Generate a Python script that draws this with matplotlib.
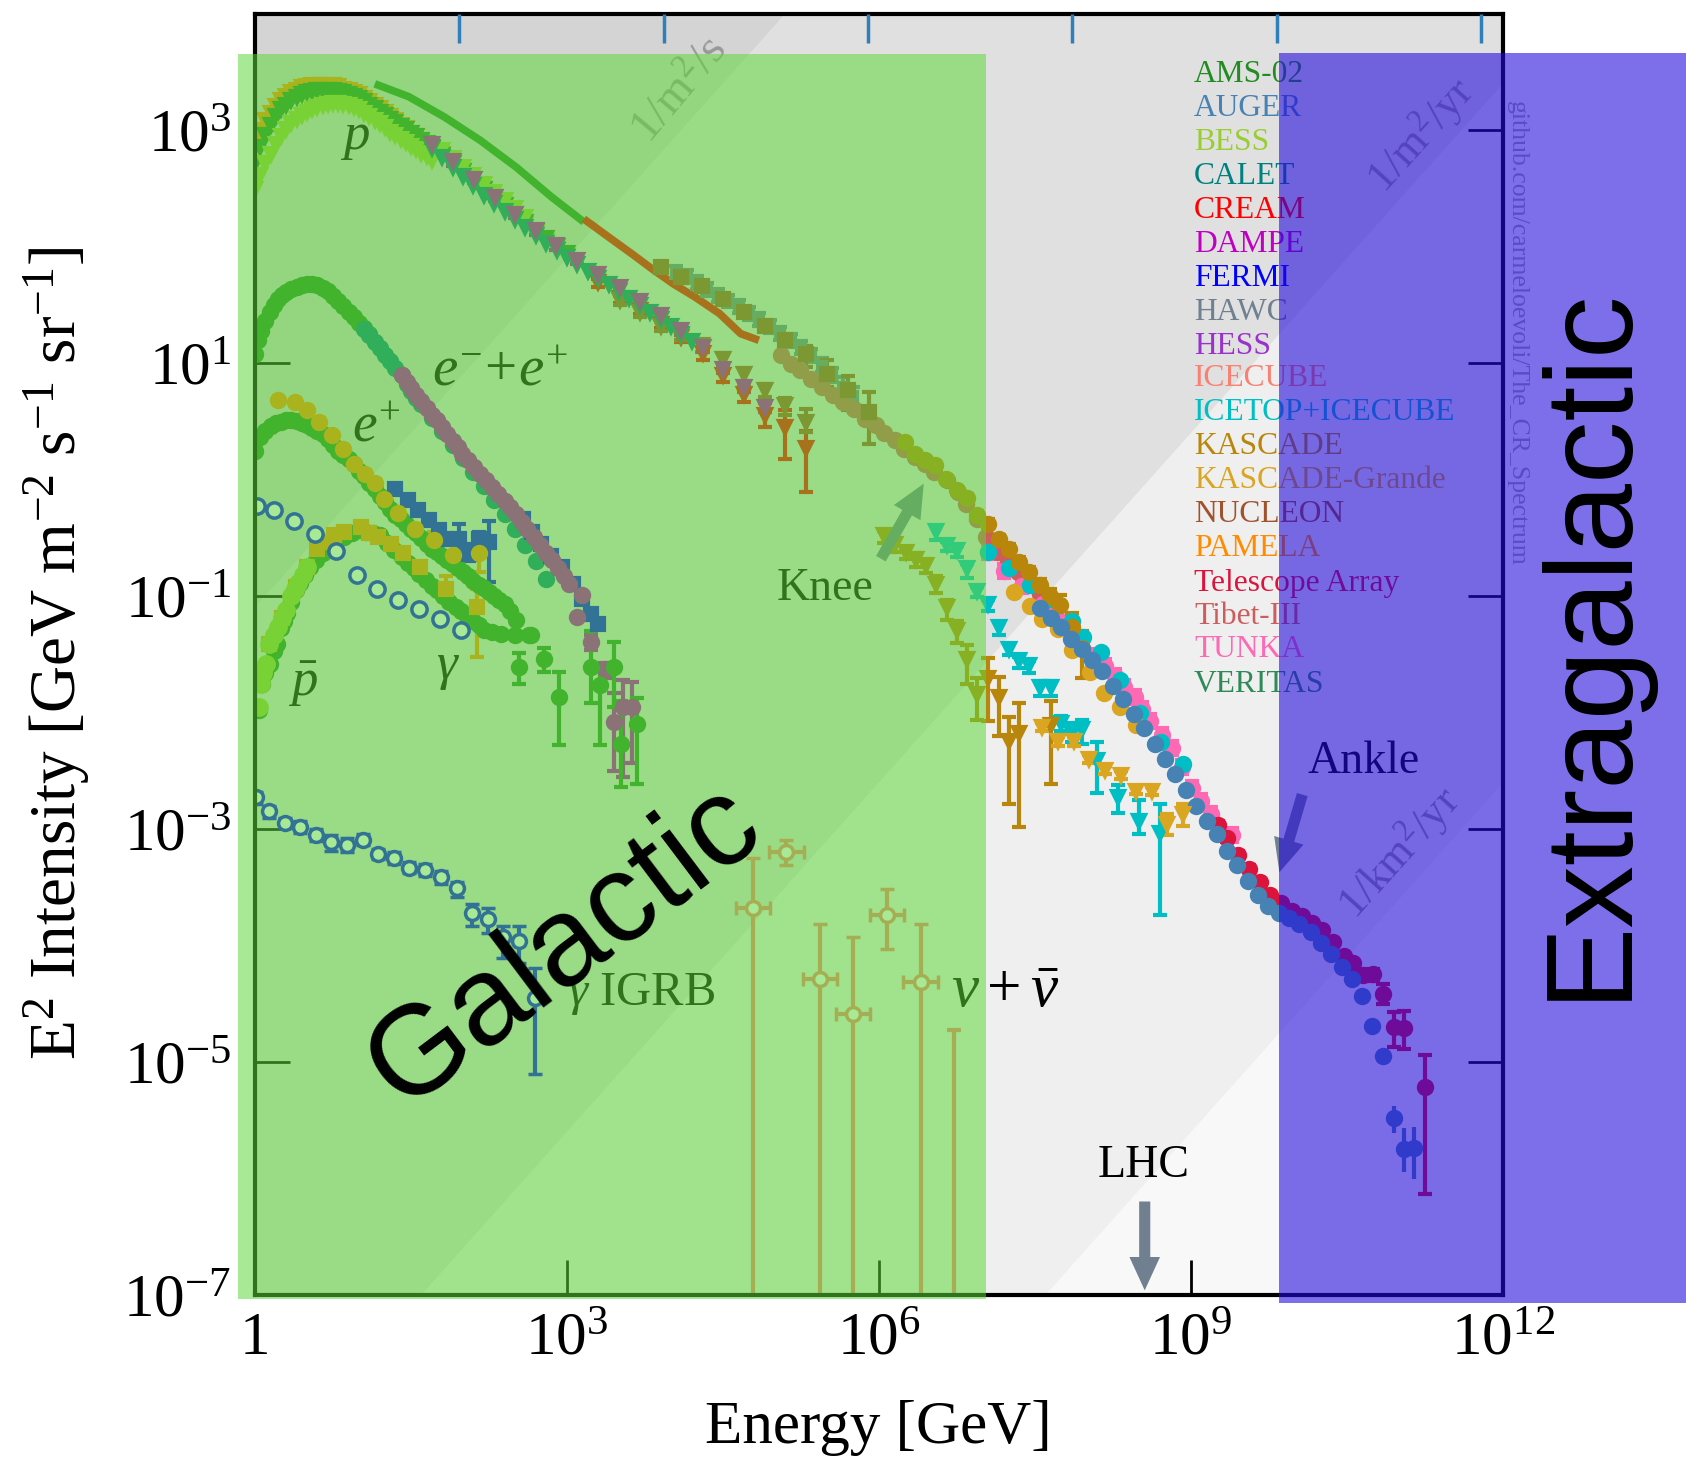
import matplotlib
matplotlib.use("Agg")
import numpy as np
import matplotlib.pyplot as plt
from matplotlib.patches import Rectangle
from matplotlib.ticker import NullLocator

W, H = 1686, 1459
plt.rcParams.update({
    "font.family": ["Liberation Serif", "DejaVu Serif"],
    "mathtext.fontset": "custom",
    "mathtext.rm": "Liberation Serif",
    "mathtext.it": "Liberation Serif:italic",
    "mathtext.bf": "Liberation Serif:bold",
})

# ---------- palette of experiments ----------
EXPERIMENTS = ["AMS-02", "AUGER", "BESS", "CALET", "CREAM", "DAMPE", "FERMI", "HAWC", "HESS", "ICECUBE",
               "ICETOP+ICECUBE", "KASCADE", "KASCADE-Grande", "NUCLEON", "PAMELA", "Telescope Array",
               "Tibet-III", "TUNKA", "VERITAS"]
COLORS = ["#228b22", "#4682b4", "#9acd32", "#008080", "#ff0000", "#c000c0", "#0000ff", "#708090", "#9932cc",
          "#fa8072", "#00bfc4", "#b8860b", "#daa520", "#a0522d", "#ff8c00", "#dc143c", "#cd5c5c", "#ff69b4",
          "#2e8b57"]
C = dict(zip(EXPERIMENTS, COLORS))

# ---------- data: log10(E/GeV), log10(E^2 I) ----------
p_low_E = [0, .05, .1, .15, .2, .25, .3, .35, .4, .45, .5, .55, .6, .65, .7, .75, .8, .85, .9, .95, 1.0, 1.05, 1.1,
           1.15, 1.2, 1.25, 1.3, 1.35, 1.4, 1.45, 1.5, 1.55, 1.6, 1.65, 1.7]
pamela_p_I = [2.90, 3.00, 3.09, 3.15, 3.21, 3.26, 3.30, 3.33, 3.35, 3.37, 3.38, 3.39, 3.39, 3.39, 3.39, 3.39, 3.38,
              3.36, 3.35, 3.33, 3.31, 3.28, 3.25, 3.22, 3.19, 3.16, 3.12, 3.09, 3.05, 3.02, 2.98, 2.95, 2.91, 2.87,
              2.84]
ams_p_I = [2.72, 2.86, 2.96, 3.05, 3.12, 3.18, 3.22, 3.26, 3.29, 3.31, 3.33, 3.34, 3.35, 3.35, 3.35, 3.35, 3.34,
           3.33, 3.31, 3.30, 3.28, 3.25, 3.22, 3.19, 3.16, 3.13, 3.10, 3.07, 3.04, 3.01, 2.98, 2.95, 2.92, 2.89,
           2.86]
bess_p_I = [2.50, 2.62, 2.72, 2.80, 2.88, 2.95, 3.01, 3.06, 3.10, 3.13, 3.16, 3.18, 3.20, 3.22, 3.23, 3.24, 3.24,
            3.23, 3.22, 3.20, 3.18, 3.15, 3.12, 3.09, 3.06, 3.03, 2.99, 2.96, 2.93, 2.90, 2.87, 2.84, 2.81, 2.78,
            2.75]
p_high_E = [1.8, 1.9, 2.0, 2.1, 2.2, 2.3, 2.4, 2.5, 2.6, 2.7, 2.8, 2.9, 3.0]
pamela_p_high_I = [2.80, 2.72, 2.65, 2.58, 2.50, 2.43, 2.36, 2.28, 2.20, 2.12, 2.05, 1.98, 1.92]
ams_p_high_I = [2.79, 2.72, 2.65, 2.58, 2.50, 2.43, 2.36, 2.28, 2.21, 2.14, 2.08, 2.01, 1.95]
bess_p_high_E = [1.8, 1.9, 2.0, 2.1, 2.2, 2.3, 2.4, 2.5, 2.6]
bess_p_high_I = [2.83, 2.76, 2.69, 2.62, 2.54, 2.47, 2.40, 2.33, 2.26]

ams_line_E = [1.152, 1.479, 1.822, 2.166, 2.51, 2.85, 3.162]
ams_line_I = [3.40, 3.29, 3.115, 2.915, 2.686, 2.43, 2.214]
cream_line_E = [3.162, 3.40, 3.64, 3.815, 4.02, 4.23, 4.467, 4.67, 4.845]
cream_line_I = [2.24, 2.085, 1.93, 1.813, 1.684, 1.57, 1.427, 1.255, 1.198]

calet_p_E = [1.7, 1.8, 1.9, 2.0, 2.1, 2.2, 2.3, 2.4, 2.5, 2.6, 2.7, 2.8, 2.9, 3.0, 3.1, 3.2, 3.3, 3.4, 3.5, 3.6, 3.7,
             3.8, 3.9, 4.0, 4.1, 4.2]
calet_p_I = [2.85, 2.77, 2.69, 2.61, 2.53, 2.45, 2.38, 2.31, 2.24, 2.17, 2.10, 2.03, 1.97, 1.91, 1.85, 1.79, 1.73,
             1.68, 1.62, 1.56, 1.50, 1.44, 1.38, 1.32, 1.25, 1.19]
cream_p_E = [3.30, 3.505, 3.70, 3.90, 4.10, 4.306, 4.50, 4.70, 4.90, 5.10, 5.30]
cream_p_I = [1.70, 1.56, 1.46, 1.34, 1.23, 1.09, .90, .74, .56, .45, .27]
cream_p_lo = [1.66, 1.52, 1.42, 1.30, 1.18, 1.03, .84, .67, .45, .18, -.105]
cream_p_hi = [1.74, 1.60, 1.50, 1.38, 1.28, 1.15, .96, .80, .66, .60, .42]
nucleon_p_E = [3.505, 3.70, 3.90, 4.10, 4.30, 4.50, 4.70, 4.90, 5.10, 5.30]
nucleon_p_I = [1.54, 1.44, 1.32, 1.24, 1.16, 1.04, .905, .768, .64, .50]
nucleon_p_lo = [1.50, 1.40, 1.28, 1.20, 1.10, .98, .85, .71, .56, .41]
nucleon_p_hi = [1.58, 1.48, 1.36, 1.28, 1.20, 1.09, .96, .82, .70, .61]
dampe_p_E = [1.702, 1.901, 2.104, 2.303, 2.502, 2.698, 2.897, 3.10, 3.30, 3.505, 3.70, 3.90, 4.10, 4.306, 4.50, 4.70,
             4.90]
dampe_p_I = [2.881, 2.735, 2.586, 2.431, 2.285, 2.142, 2.013, 1.890, 1.764, 1.656, 1.535, 1.412, 1.284, 1.14, .954,
             .797, .625]

hawc_E = [4.05, 4.15, 4.25, 4.35, 4.45, 4.55, 4.65, 4.75, 4.85, 4.95, 5.05, 5.15, 5.25, 5.35, 5.45, 5.55, 5.65, 5.75]
hawc_I = [1.78, 1.74, 1.69, 1.63, 1.58, 1.53, 1.48, 1.42, 1.37, 1.31, 1.25, 1.19, 1.13, 1.06, .98, .89, .80, .72]
hawc_lo = [1.73, 1.69, 1.64, 1.58, 1.53, 1.48, 1.43, 1.37, 1.32, 1.26, 1.20, 1.14, 1.08, 1.01, .93, .84, .74, .64]
hawc_hi = [1.84, 1.80, 1.75, 1.69, 1.64, 1.59, 1.54, 1.48, 1.43, 1.37, 1.31, 1.25, 1.19, 1.12, 1.05, .96, .88, .80]
nucleon_all_E = [3.90, 4.096, 4.30, 4.50, 4.70, 4.90, 5.10, 5.30, 5.5, 5.70, 5.90]
nucleon_all_I = [1.827, 1.742, 1.664, 1.55, 1.441, 1.318, 1.198, 1.077, .911, .768, .582]
nucleon_all_lo = [1.80, 1.71, 1.63, 1.52, 1.41, 1.29, 1.16, .97, .80, .60, .31]
nucleon_all_hi = [1.85, 1.77, 1.69, 1.58, 1.47, 1.35, 1.23, 1.15, 1.03, .89, .75]
tibet_E = [5.056, 5.15, 5.245, 5.35, 5.45, 5.554, 5.657, 5.76, 5.863, 5.97, 6.05, 6.155, 6.24, 6.344, 6.447, 6.53,
           6.65, 6.756, 6.84, 6.945, 7.03, 7.134, 7.237, 7.34, 7.443, 7.546]
tibet_I = [1.07, .997, .94, .868, .796, .725, .668, .61, .525, .467, .40, .339, .267, .196, .138, .067, -.005, -.105,
           -.205, -.334, -.49, -.62, -.69, -.79, -.892, -.98]
kascade_all_E = [6.248, 6.35, 6.447, 6.543, 6.647, 6.746, 6.842, 6.945, 7.05, 7.15, 7.25, 7.347, 7.443, 7.546, 7.645,
                 7.745, 7.856, 7.95]
kascade_all_I = [.324, .218, .167, .124, .01, -.09, -.154, -.305, -.377, -.506, -.59, -.706, -.792, -.906, -1.0,
                 -1.078, -1.26, -1.44]
kascade_all_lo = [.29, .18, .13, .09, -.02, -.12, -.19, -.34, -.41, -.54, -.63, -.75, -.84, -.96, -1.06, -1.18,
                  -1.40, -1.70]
kascade_all_hi = [.35, .25, .20, .16, .04, -.06, -.12, -.27, -.34, -.47, -.55, -.66, -.75, -.85, -.94, -.99, -1.14,
                  -1.30]
icetop_all_E = [7.05, 7.25, 7.45, 7.65, 7.856, 7.96, 8.13, 8.32, 8.51, 8.715, 8.92]
icetop_all_I = [-.62, -.76, -.90, -1.02, -1.21, -1.354, -1.476, -1.72, -2.0, -2.248, -2.44]
grande_all_E = [7.3, 7.45, 7.564, 7.72, 7.856, 8.03, 8.165, 8.32, 8.475]
grande_all_I = [-.96, -1.08, -1.196, -1.284, -1.459, -1.652, -1.827, -1.95, -2.107]
tunka_E = [7.05, 7.2, 7.375, 7.58, 7.7, 7.82, 7.94, 8.06, 8.17, 8.27, 8.36, 8.457, 8.53, 8.61, 8.72, 8.82, 8.91, 9.007,
           9.1, 9.196, 9.395]
tunka_I = [-.62, -.78, -.916, -1.07, -1.17, -1.266, -1.39, -1.51, -1.60, -1.687, -1.78, -1.862, -1.97, -2.07, -2.19,
           -2.307, -2.47, -2.65, -2.76, -2.868, -3.054]
ta_E = [9.264, 9.35, 9.453, 9.556, 9.66, 9.763, 9.866, 9.97, 10.07, 10.165, 10.26, 10.364, 10.467, 10.56, 10.656,
        10.75, 10.845, 10.95, 11.044, 11.25]
ta_I = [-2.966, -3.078, -3.218, -3.341, -3.457, -3.562, -3.632, -3.702, -3.748, -3.807, -3.87, -3.965, -4.087, -4.15,
        -4.256, -4.245, -4.414, -4.70, -4.708, -5.216]
ta_lo = [-3.0, -3.11, -3.25, -3.37, -3.49, -3.59, -3.66, -3.73, -3.77, -3.83, -3.89, -3.99, -4.11, -4.18, -4.29, -4.30,
         -4.50, -4.87, -4.89, -6.13]
ta_hi = [-2.93, -3.05, -3.19, -3.31, -3.43, -3.54, -3.61, -3.68, -3.73, -3.79, -3.85, -3.94, -4.06, -4.12, -4.22, -4.20,
         -4.33, -4.57, -4.56, -4.94]
auger_E = [7.547, 7.65, 7.746, 7.85, 7.95, 8.05, 8.148, 8.25, 8.35, 8.45, 8.55, 8.65, 8.75, 8.85, 8.95, 9.05, 9.15,
           9.25, 9.347, 9.446, 9.546, 9.646, 9.745, 9.85, 9.945, 10.04, 10.15, 10.25, 10.346, 10.45, 10.546, 10.645,
           10.745, 10.845, 10.95, 11.044, 11.144]
auger_I = [-1.10, -1.185, -1.266, -1.364, -1.452, -1.546, -1.645, -1.767, -1.886, -2.009, -2.132, -2.265, -2.395,
           -2.528, -2.661, -2.80, -2.93, -3.043, -3.187, -3.31, -3.446, -3.562, -3.656, -3.72, -3.76, -3.81, -3.884,
           -3.98, -4.07, -4.186, -4.284, -4.435, -4.694, -4.946, -5.483, -5.742, -5.735]
auger_lo = [v - .01 for v in auger_I[:34]] + [-5.61, -5.94, -6.0]
auger_hi = [v + .01 for v in auger_I[:34]] + [-5.38, -5.57, -5.56]

icetop_p_E = [6.55, 6.653, 6.75, 6.846, 6.945, 7.05, 7.15, 7.25, 7.347, 7.443, 7.546, 7.65, 7.753, 7.856, 7.95, 8.10,
              8.296, 8.50, 8.70]
icetop_p_I = [-.44, -.563, -.606, -.755, -.955, -1.064, -1.264, -1.45, -1.55, -1.593, -1.78, -1.78, -2.09, -2.177,
              -2.142, -2.405, -2.72, -2.93, -3.036]
icetop_p_lo = [-.52, -.61, -.66, -.84, -1.01, -1.13, -1.33, -1.50, -1.62, -1.66, -1.86, -1.86, -2.16, -2.25, -2.27,
               -2.69, -2.86, -3.04, -3.737]
icetop_p_hi = [-.40, -.53, -.57, -.72, -.92, -1.03, -1.22, -1.41, -1.52, -1.56, -1.73, -1.73, -2.03, -2.09, -2.06,
               -2.25, -2.62, -2.75, -2.78]
kascade_p_E = [6.05, 6.155, 6.26, 6.354, 6.454, 6.55, 6.653, 6.75, 6.846, 6.945, 7.05, 7.15, 7.248, 7.348, 7.65]
kascade_p_I = [-.477, -.549, -.62, -.677, -.735, -.892, -1.092, -1.293, -1.536, -1.836, -1.70, -1.862, -2.247, -2.177,
               -2.107]
kascade_p_lo = [-.54, -.62, -.68, -.75, -.80, -.97, -1.20, -1.40, -1.75, -2.06, -2.07, -2.20, -2.78, -2.98, -2.61]
kascade_p_hi = [-.44, -.50, -.58, -.63, -.69, -.83, -1.03, -1.21, -1.42, -1.70, -1.53, -1.69, -2.04, -1.92, -1.90]
grande_p_E = [7.564, 7.725, 7.873, 8.02, 8.175, 8.326, 8.475, 8.622, 8.773, 8.92]
grande_p_I = [-2.125, -2.247, -2.247, -2.395, -2.493, -2.538, -2.668, -2.675, -2.955, -2.868]
grande_p_lo = [-2.16, -2.29, -2.29, -2.43, -2.53, -2.57, -2.70, -2.71, -3.05, -2.97]
grande_p_hi = [-2.09, -2.21, -2.21, -2.36, -2.46, -2.50, -2.63, -2.64, -2.87, -2.78]

ams_ee_E = [0, .03, .06, .1, .14, .18, .22, .26, .3, .35, .4, .45, .5, .55, .6, .65, .7, .75, .8, .85, .9, .95, 1.0,
            1.05, 1.1]
ams_ee_I = [1.08, 1.2, 1.28, 1.36, 1.44, 1.5, 1.55, 1.59, 1.615, 1.64, 1.66, 1.675, 1.685, 1.685, 1.67, 1.65, 1.62,
            1.58, 1.535, 1.49, 1.44, 1.395, 1.35, 1.305, 1.25]
calet_ee_E = [1.05, 1.10, 1.15, 1.20, 1.25, 1.30, 1.35, 1.41, 1.46, 1.5, 1.55, 1.6, 1.7, 1.8, 1.9, 2.0, 2.1, 2.2, 2.3,
              2.4, 2.5, 2.6, 2.7, 2.8]
calet_ee_I = [1.298, 1.24, 1.18, 1.13, 1.07, 1.02, .96, .90, .82, .76, .70, .65, .53, .42, .30, .19, .07, -.05, -.17,
              -.29, -.42, -.56, -.70, -.85]
fermi_ee_E = [2.58, 2.66, 2.75, 2.85, 2.956, 3.06, 3.14, 3.23, 3.3]
fermi_ee_I = [-.34, -.45, -.548, -.65, -.749, -.892, -1.02, -1.15, -1.235]
dampe_ee_E = [1.41, 1.46, 1.5, 1.55, 1.6, 1.65, 1.7, 1.75, 1.8, 1.85, 1.9, 1.95, 1.994, 2.05, 2.11, 2.166, 2.22, 2.28,
              2.337, 2.4, 2.45, 2.51, 2.57, 2.62, 2.68, 2.74, 2.8, 2.853, 2.91, 2.97, 3.024, 3.145, 3.093, 3.23, 3.37,
              3.454, 3.54, 3.626]
dampe_ee_I = [.897, .84, .79, .73, .68, .62, .56, .51, .45, .39, .33, .28, .224, .17, .11, .053, -.005, -.06, -.119,
              -.18, -.23, -.29, -.36, -.42, -.491, -.56, -.63, -.691, -.76, -.83, -.892, -.992, -1.178, -1.393, -1.622,
              -2.08, -1.95, -1.95]
dampe_ee_lo = [v - .01 for v in dampe_ee_I[:33]] + [-1.46, -1.70, -2.50, -2.55, -2.43]
dampe_ee_hi = [v + .01 for v in dampe_ee_I[:33]] + [-1.33, -1.57, -1.83, -1.72, -1.74]
ams_ep_band_E = [0, .05, .1, .15, .2, .25, .3, .35, .4, .45, .5, .55, .6, .65, .7, .75, .8, .85, .9, .95, 1.0, 1.05,
                 1.1, 1.15, 1.2, 1.25, 1.3, 1.35, 1.4, 1.45, 1.5, 1.55, 1.6, 1.65, 1.7, 1.75, 1.8, 1.85, 1.9, 1.95,
                 2.0, 2.05, 2.1, 2.15, 2.2, 2.25, 2.3, 2.35, 2.4, 2.45, 2.51]
ams_ep_band_I = [.25, .37, .42, .46, .485, .50, .51, .514, .505, .49, .47, .445, .42, .39, .35, .30, .25, .21, .18,
                 .14, .08, .03, -.03, -.08, -.14, -.19, -.25, -.30, -.34, -.38, -.42, -.46, -.50, -.55, -.59, -.62,
                 -.655, -.69, -.72, -.755, -.79, -.83, -.865, -.90, -.93, -.965, -1.0, -1.03, -1.07, -1.13, -1.207]
ams_ep_tail_E = [2.63, 2.777, 2.92, 3.23, 3.317, 3.454, 3.52, 3.677]
ams_ep_tail_I = [-1.335, -1.536, -1.865, -1.607, -1.765, -1.607, -2.265, -2.094]
ams_ep_tail_lo = [-1.36, -1.65, -2.28, -1.92, -2.28, -1.95, -2.64, -2.61]
ams_ep_tail_hi = [-1.31, -1.44, -1.65, -1.30, -1.60, -1.39, -1.90, -1.87]
ams_pb_E = [.04, .07, .1, .14, .18, .21, .25, .28, .31, .35, .39, .43, .48, .53, .59, .65, .72, .79, .86, .93, 1.0,
            1.07, 1.13, 1.2, 1.27, 1.34, 1.41, 1.47, 1.53, 1.58, 1.64, 1.7, 1.75, 1.81, 1.87, 1.93, 1.98, 2.04, 2.1,
            2.15, 2.2, 2.28, 2.37, 2.5, 2.65]
ams_pb_I = [-1.98, -1.75, -1.66, -1.58, -1.47, -1.41, -1.27, -1.21, -1.14, -1.05, -.95, -.89, -.82, -.75, -.69, -.63,
            -.57, -.52, -.49, -.455, -.434, -.445, -.46, -.477, -.54, -.60, -.663, -.71, -.76, -.806, -.86, -.91, -.95,
            -1.0, -1.05, -1.09, -1.13, -1.17, -1.21, -1.25, -1.29, -1.31, -1.32, -1.33, -1.335]
ams_pb_tail_E = [2.537]
ams_pb_tail_I = [-1.607]
ams_pb_tail_lo = [-1.75]
ams_pb_tail_hi = [-1.49]
pamela_pb_E = [.139, .259, .397, .5, .6, .67, .757, .86, 1.015, 1.1, 1.187, 1.307, 1.427, 1.582, 1.84, 2.13]
pamela_pb_I = [-1.41, -1.19, -.92, -.75, -.59, -.534, -.477, -.448, -.405, -.457, -.491, -.548, -.628, -.749, -.935,
               -1.092]
pamela_pb_lo = [-1.43, -1.21, -.94, -.77, -.61, -.55, -.50, -.47, -.43, -.48, -.51, -.57, -.65, -.79, -1.03, -1.52]
pamela_pb_hi = [-1.39, -1.17, -.90, -.73, -.57, -.51, -.46, -.43, -.38, -.44, -.47, -.53, -.61, -.72, -.83, -.94]
bess_pb_E = [.036, .053, .08, .105, .139, .18, .225, .26, .294, .345, .38, .414, .46, .5]
bess_pb_I = [-1.95, -1.75, -1.66, -1.58, -1.41, -1.33, -1.26, -1.19, -1.12, -1.0, -.94, -.89, -.82, -.75]
pamela_ep_E = [.225, .38, .5, .62, .74, .843, .956, 1.06, 1.15, 1.245, 1.375, 1.54, 1.72, 1.908, 2.155]
pamela_ep_I = [.682, .668, .597, .496, .382, .267, .139, .047, -.025, -.162, -.282, -.42, -.52, -.649, -.628]
pamela_ep_lo = [v - .01 for v in pamela_ep_I[:12]] + [-.62, -.76, -.79]
pamela_ep_hi = [v + .01 for v in pamela_ep_I[:12]] + [-.45, -.55, -.51]
fermi_ep_E = [1.348, 1.468, 1.564, 1.67, 1.77, 1.84, 1.96, 2.06, 2.155, 2.25]
fermi_ep_I = [-.076, -.176, -.262, -.348, -.434, -.505, -.505, -.634, -.505, -.534]
fermi_ep_lo = [-.10, -.20, -.29, -.38, -.46, -.53, -.60, -.70, -.62, -.88]
fermi_ep_hi = [-.05, -.15, -.24, -.32, -.40, -.47, -.38, -.55, -.45, -.35]
fermi_gamma_E = [.019, .184, .379, .579, .781, .977, 1.176, 1.376, 1.575, 1.778, 1.977]
fermi_gamma_I = [-.228, -.262, -.356, -.468, -.611, -.82, -.94, -1.035, -1.109, -1.198, -1.292]
fermi_igrb_E = [.006, .134, .286, .433, .585, .733, .885, 1.037, 1.184, 1.336, 1.483, 1.635, 1.787, 1.94, 2.087, 2.239,
                2.386, 2.538, 2.69]
fermi_igrb_I = [-2.726, -2.848, -2.944, -2.978, -3.054, -3.109, -3.138, -3.089, -3.213, -3.248, -3.33, -3.35, -3.414,
                -3.509, -3.721, -3.77, -3.93, -3.959, -4.452]
fermi_igrb_lo = [-2.78, -2.90, -2.99, -3.03, -3.10, -3.19, -3.20, -3.14, -3.26, -3.30, -3.38, -3.40, -3.47, -3.58,
                 -3.83, -3.89, -4.11, -4.15, -5.10]
fermi_igrb_hi = [-2.68, -2.80, -2.90, -2.93, -3.00, -3.05, -3.08, -3.04, -3.17, -3.20, -3.28, -3.30, -3.36, -3.45,
                 -3.64, -3.68, -3.83, -3.83, -4.19]
nu_E = [4.786, 5.11, 5.433, 5.752, 6.076, 6.40]
nu_I = [-3.678, -3.196, -4.284, -4.585, -3.733, -4.313]
nu_lo = [-7.5, -3.306, -7.5, -7.5, -4.026, -7.5]
nu_hi = [-3.248, -3.089, -3.814, -3.93, -3.51, -3.814]
nu_limit_E = 6.72
nu_limit_hi = -4.728
nu_xerr = 0.165

x_ticks = [0, 3, 6, 9, 12]
x_ticklabels = ["1", r"$10^{3}$", r"$10^{6}$", r"$10^{9}$", r"$10^{12}$"]
y_ticks = [3, 1, -1, -3, -5, -7]
y_ticklabels = [r"$10^{3}$", r"$10^{1}$", r"$10^{-1}$", r"$10^{-3}$", r"$10^{-5}$", r"$10^{-7}$"]
top_ticks = [1.965, 3.93, 5.895, 7.86, 9.825, 11.79]
band_offsets = [-1.1, -8.6, -14.6]
band_colors = ["#d4d4d4", "#e0e0e0", "#efefef", "#f8f8f8"]
legend_y = [75, 109, 143, 176, 210, 244, 278, 312, 346, 379, 413, 447, 481, 515, 548, 583, 616, 650, 684]

# ---------- figure ----------
fig = plt.figure(figsize=(W / 100, H / 100), dpi=100, facecolor="white")
ax = fig.add_axes([255 / W, 1 - 1295 / H, (1503 - 255) / W, (1295 - 14) / H])
ax.set_xscale("log")
ax.set_yscale("log")
ax.set_xlim(1, 1e12)
ax.set_ylim(1e-7, 1e4)


def pw(a):
    return 10.0 ** np.asarray(a, dtype=float)


# background bands
bx = np.array([-1.0, 13.0])
ax.set_facecolor(band_colors[3])
ax.fill_between(pw(bx), pw(bx + band_offsets[0]), pw(bx + 30), color=band_colors[0], lw=0, zorder=.10)
ax.fill_between(pw(bx), pw(bx + band_offsets[1]), pw(bx + band_offsets[0]), color=band_colors[1], lw=0, zorder=.11)
ax.fill_between(pw(bx), pw(bx + band_offsets[2]), pw(bx + band_offsets[1]), color=band_colors[2], lw=0, zorder=.12)

zcount = [2.0]
MS = {"o": 9.5, "s": 8.5, "v": 9.0}


def series(E, I, color, marker="o", lo=None, hi=None, ms=None, mfc=None, mew=3.0, capsize=5):
    zcount[0] += 0.01
    E, I = np.asarray(E, float), np.asarray(I, float)
    yerr = None
    if lo is not None:
        yerr = [np.maximum(pw(I) - pw(lo), 0), np.maximum(pw(hi) - pw(I), 0)]
    ax.errorbar(pw(E), pw(I), yerr=yerr, fmt=marker, color=color, ms=ms if ms else MS.get(marker, 8.5),
                mfc=mfc if mfc else color, mec=color, mew=mew, elinewidth=3, capsize=capsize, capthick=3,
                zorder=zcount[0], ls="none")


# protons
ax.plot(pw(ams_line_E), pw(ams_line_I), color=C["AMS-02"], lw=5.5, zorder=2.0, solid_capstyle="butt")
ax.plot(pw(cream_line_E), pw(cream_line_I), color=C["CREAM"], lw=5.5, zorder=2.005, solid_capstyle="butt")
series(p_low_E + p_high_E, pamela_p_I + pamela_p_high_I, C["PAMELA"], "v")
series(p_low_E + p_high_E, ams_p_I + ams_p_high_I, C["AMS-02"], "v")
series(p_low_E + bess_p_high_E, bess_p_I + bess_p_high_I, C["BESS"], "v")
series(cream_p_E, cream_p_I, C["CREAM"], "v", lo=cream_p_lo, hi=cream_p_hi)
series(nucleon_p_E, nucleon_p_I, C["NUCLEON"], "v", lo=nucleon_p_lo, hi=nucleon_p_hi)
series(calet_p_E, calet_p_I, C["CALET"], "v")
series(dampe_p_E, dampe_p_I, C["DAMPE"], "v", lo=[v - .04 for v in dampe_p_I], hi=[v + .04 for v in dampe_p_I])
# all particle
series(hawc_E, hawc_I, C["HAWC"], "s", ms=6, lo=hawc_lo, hi=hawc_hi)
series(tibet_E, tibet_I, C["Tibet-III"], "o")
series(tunka_E, tunka_I, C["TUNKA"], "o", lo=[v - .06 for v in tunka_I], hi=[v + .06 for v in tunka_I])
series(icetop_all_E, icetop_all_I, C["ICETOP+ICECUBE"], "o")
series(nucleon_all_E, nucleon_all_I, C["NUCLEON"], "s", lo=nucleon_all_lo, hi=nucleon_all_hi)
series(kascade_all_E, kascade_all_I, C["KASCADE"], "o", lo=kascade_all_lo, hi=kascade_all_hi)
series(grande_all_E, grande_all_I, C["KASCADE-Grande"], "o")
series(ta_E, ta_I, C["Telescope Array"], "o", lo=ta_lo, hi=ta_hi)
series(auger_E, auger_I, C["AUGER"], "o", lo=auger_lo, hi=auger_hi, capsize=0)
# light component
series(icetop_p_E, icetop_p_I, C["ICETOP+ICECUBE"], "v", lo=icetop_p_lo, hi=icetop_p_hi)
series(kascade_p_E, kascade_p_I, C["KASCADE"], "v", lo=kascade_p_lo, hi=kascade_p_hi)
series(grande_p_E, grande_p_I, C["KASCADE-Grande"], "v", lo=grande_p_lo, hi=grande_p_hi)
# leptons and antiprotons
series(ams_ee_E, ams_ee_I, C["AMS-02"], "o")
series(calet_ee_E, calet_ee_I, C["CALET"], "o")
series(fermi_ee_E, fermi_ee_I, C["FERMI"], "s")
series(dampe_ee_E, dampe_ee_I, C["DAMPE"], "o", lo=dampe_ee_lo, hi=dampe_ee_hi)
series(ams_ep_band_E, ams_ep_band_I, C["AMS-02"], "o")
series(ams_ep_tail_E, ams_ep_tail_I, C["AMS-02"], "o", lo=ams_ep_tail_lo, hi=ams_ep_tail_hi)
series(fermi_ep_E, fermi_ep_I, C["FERMI"], "s", lo=fermi_ep_lo, hi=fermi_ep_hi)
series(pamela_ep_E, pamela_ep_I, C["PAMELA"], "o", lo=pamela_ep_lo, hi=pamela_ep_hi)
series(ams_pb_E, ams_pb_I, C["AMS-02"], "o")
series(ams_pb_tail_E, ams_pb_tail_I, C["AMS-02"], "o", lo=ams_pb_tail_lo, hi=ams_pb_tail_hi)
series(pamela_pb_E, pamela_pb_I, C["PAMELA"], "s", lo=pamela_pb_lo, hi=pamela_pb_hi)
series(bess_pb_E, bess_pb_I, C["BESS"], "o", ms=10.5)
# gamma rays
series(fermi_gamma_E, fermi_gamma_I, C["FERMI"], "o", ms=11, mfc="white", mew=2.5)
series(fermi_igrb_E, fermi_igrb_I, C["FERMI"], "o", ms=10, mfc="white", mew=2.5, lo=fermi_igrb_lo, hi=fermi_igrb_hi)
# neutrinos
zcount[0] += 0.01
ax.errorbar(pw(nu_E), pw(nu_I), xerr=[pw(nu_E) * (1 - 10 ** -nu_xerr), pw(nu_E) * (10 ** nu_xerr - 1)],
            yerr=[pw(nu_I) - pw(nu_lo), pw(nu_hi) - pw(nu_I)], fmt="o", color=C["ICECUBE"], mfc="white", ms=10, mew=2.5,
            elinewidth=3, capsize=5, capthick=3, zorder=zcount[0])
ax.errorbar(pw([nu_limit_E]), pw([-7.5]), yerr=[[0], [pw(nu_limit_hi) - pw(-7.5)]], fmt="none", ecolor=C["ICECUBE"],
            elinewidth=3, capsize=5, capthick=3, zorder=zcount[0])


def arrow(E0, I0, E1, I1, width=8, hw=22, hl=24):
    ax.annotate("", xy=(pw(E1), pw(I1)), xytext=(pw(E0), pw(I0)),
                arrowprops=dict(facecolor=C["HAWC"], edgecolor="none", width=width, headwidth=hw, headlength=hl,
                                shrink=0), zorder=3)


arrow(6.018, -.677, 6.43, -.033)
arrow(10.07, -2.703, 9.85, -3.37)
arrow(8.555, -6.197, 8.555, -6.96)

# axes cosmetics
for s in ax.spines.values():
    s.set_linewidth(3)
    s.set_zorder(5)
ax.xaxis.set_minor_locator(NullLocator())
ax.yaxis.set_minor_locator(NullLocator())
ax.set_xticks(pw(x_ticks))
ax.set_xticklabels(x_ticklabels)
ax.set_yticks(pw(y_ticks))
ax.set_yticklabels(y_ticklabels)
ax.tick_params(axis="both", direction="in", length=25, width=2, labelsize=44, pad=17, right=True)
ax.tick_params(axis="x", pad=12)
tw = ax.twiny()
tw.set_xscale("log")
tw.set_xlim(1, 1e12)
tw.set_xticks(pw(top_ticks))
tw.xaxis.set_minor_locator(NullLocator())
tw.tick_params(axis="x", direction="in", length=21, width=2.5, color="#2f7fb8", labeltop=False)
tw.patch.set_visible(False)
for s in tw.spines.values():
    s.set_visible(False)


def ftext(x, y, s, **kw):
    kw.setdefault("ha", "center")
    kw.setdefault("va", "center")
    kw.setdefault("zorder", 5)
    return fig.text(x / W, 1 - y / H, s, **kw)


ftext(878, 1428, "Energy [GeV]", fontsize=44)
ftext(57, 653, r"E$^{2}$ Intensity [GeV m$^{-2}$ s$^{-1}$ sr$^{-1}$]", fontsize=47, rotation=90)
for name, y in zip(EXPERIMENTS, legend_y):
    ftext(1194, y, name, color=C[name], fontsize=22.7, ha="left")

ftext(355, 138, r"$p$", fontsize=38)
ftext(500, 372, r"$e^{-}\!+\!e^{+}$", fontsize=41)
ftext(376, 428, r"$e^{+}$", fontsize=40)
ftext(448, 668, r"$\gamma$", fontsize=38)
ftext(303, 684, r"$\bar{p}$", fontsize=38)
ftext(825, 589, "Knee", fontsize=33)
ftext(642, 994, r"$\gamma$ IGRB", fontsize=35)
ftext(1005, 992, r"$\nu+\bar{\nu}$", fontsize=44)
ftext(1144, 1166, "LHC", fontsize=33)
ftext(1364, 762, "Ankle", fontsize=33)
for x, y, s, r, fs in [(681, 91, r"1/m$^{2}$/s", 50, 34), (1421, 135, r"1/m$^{2}$/yr", 48, 32),
                       (1399, 853, r"1/km$^{2}$/yr", 48, 32)]:
    ftext(x, y, s, fontsize=fs, rotation=r, color="#999999")
ftext(1517, 333, "github.com/carmeloevoli/The_CR_Spectrum", fontsize=18.5, rotation=270, color="#aaaaaa")

# overlays
fig.add_artist(Rectangle((238 / W, 1 - 1299 / H), (986 - 238) / W, (1299 - 54) / H, transform=fig.transFigure,
                         facecolor=(93 / 255, 215 / 255, 56 / 255), alpha=.535, edgecolor="none", zorder=10))
fig.add_artist(Rectangle((1278.5 / W, 1 - 1303 / H), (1686 - 1278.5) / W, (1303 - 53) / H, transform=fig.transFigure,
                         facecolor=(34 / 255, 8 / 255, 220 / 255), alpha=.59, edgecolor="none", zorder=10))
ftext(565, 946, "Galactic", family=["Liberation Sans"], fontsize=91, rotation=37, color="black", zorder=20)
ftext(1591, 642, "Extragalactic", family=["Liberation Sans"], fontsize=90, rotation=90, color="black", zorder=20)

fig.savefig("out.png", dpi=100)
